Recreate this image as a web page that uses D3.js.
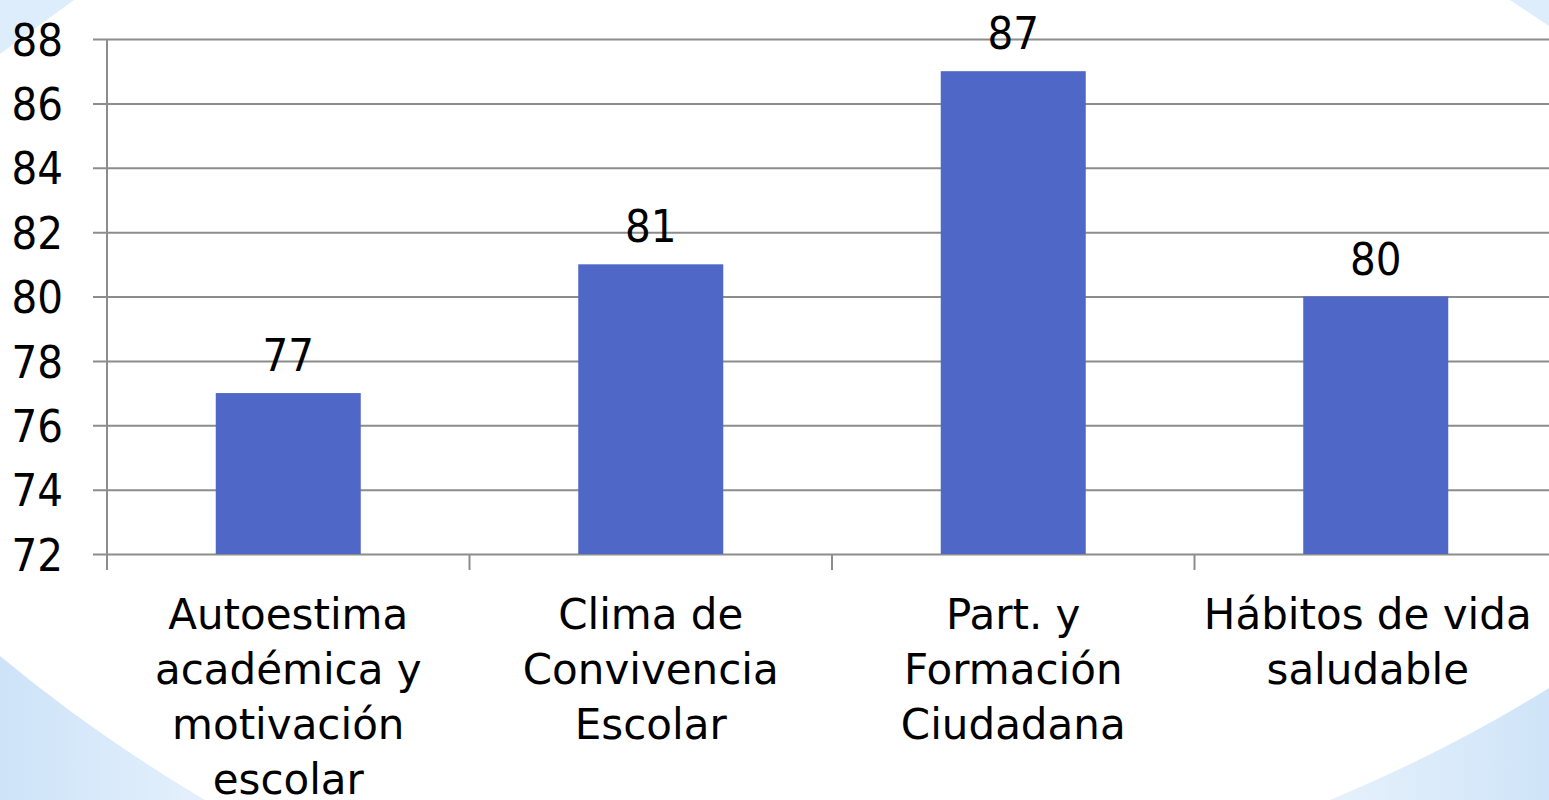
<!DOCTYPE html>
<html>
<head>
<meta charset="utf-8">
<script src="https://cdn.jsdelivr.net/npm/d3@7"></script>
<style>
  body { margin: 0; background: #fff; }
  svg { display: block; font-family: "DejaVu Sans", sans-serif; }
</style>
</head>
<body>
<svg width="1549" height="800"></svg>
<script>
const categories = [
    'Autoestima académica y motivación escolar',
    'Clima de Convivencia Escolar',
    'Part. y Formación Ciudadana',
    'Hábitos de vida saludable'
];
const values = [77, 81, 87, 80];
const yTicks = [72, 74, 76, 78, 80, 82, 84, 86, 88];

const svg = d3.select('svg');
const width = +svg.attr('width');
const height = +svg.attr('height');

// soft blue corner shapes of the slide background
const defs = svg.append('defs');
const grad = defs.append('linearGradient')
    .attr('id', 'bg-blue')
    .attr('x1', '0').attr('x2', '1').attr('y1', '0').attr('y2', '0');
grad.append('stop').attr('offset', '0%').attr('stop-color', '#cde3f8');
grad.append('stop').attr('offset', '100%').attr('stop-color', '#e4f0fc');
const gradR = defs.append('linearGradient')
    .attr('id', 'bg-blue-r')
    .attr('x1', '0').attr('x2', '1').attr('y1', '0').attr('y2', '0');
gradR.append('stop').attr('offset', '0%').attr('stop-color', '#e6f1fc');
gradR.append('stop').attr('offset', '100%').attr('stop-color', '#cfe4f8');

const bg = svg.append('g').attr('class', 'background');
bg.append('path').attr('d', 'M0,0 L74,0 L0,54 Z').attr('fill', '#ddedfb');
bg.append('path').attr('d', `M1510,0 L${width},0 L${width},26 Z`).attr('fill', '#ddedfb');
bg.append('path')
    .attr('d', `M0,656 Q95,735 205,${height} L0,${height} Z`)
    .attr('fill', 'url(#bg-blue)');
bg.append('path')
    .attr('d', `M1330,${height} Q1450,750 ${width},688 L${width},${height} Z`)
    .attr('fill', 'url(#bg-blue-r)');

const margin = { top: 39, right: -8, bottom: 246, left: 107 };
const innerWidth = width - margin.left - margin.right;
const innerHeight = height - margin.top - margin.bottom;

const g = svg.append('g')
    .attr('transform', `translate(${margin.left},${margin.top})`);

const xScale = d3.scaleBand()
    .domain(categories)
    .range([0, innerWidth])
    .paddingInner(0.6)
    .paddingOuter(0.3);

const yScale = d3.scaleLinear()
    .domain([72, 88])
    .range([innerHeight, 0]);

const numFont = '"DejaVu Sans Condensed", "DejaVu Sans", sans-serif';

// horizontal gridlines with y ticks
const yAxis = d3.axisLeft(yScale)
    .tickValues(yTicks)
    .tickSize(-(innerWidth + 14))
    .tickPadding(28);

const yG = g.append('g')
    .attr('class', 'y-axis')
    .call(yAxis);
yG.select('.domain').remove();
yG.selectAll('.tick line')
    .attr('x1', -14)
    .attr('x2', innerWidth)
    .attr('stroke', '#8c8c8c')
    .attr('stroke-width', 2);
yG.selectAll('.tick text')
    .attr('font-size', 45)
    .attr('fill', '#000')
    .attr('font-family', numFont)
    .attr('x', -44)
    .attr('text-anchor', 'end')
    .attr('dy', '0.36em');

// vertical axis line
g.append('line')
    .attr('x1', 0).attr('x2', 0)
    .attr('y1', 0).attr('y2', innerHeight + 16)
    .attr('stroke', '#8c8c8c')
    .attr('stroke-width', 2);

// category separator ticks
const step = xScale.step();
const sepX = d3.range(categories.length + 1).map(i => i * step);
g.selectAll('.sep')
    .data(sepX)
    .enter()
    .append('line')
    .attr('class', 'sep')
    .attr('x1', d => d).attr('x2', d => d)
    .attr('y1', innerHeight).attr('y2', innerHeight + 16)
    .attr('stroke', '#8c8c8c')
    .attr('stroke-width', 2);

// bars
const barData = categories.map((c, i) => ({ category: c, value: values[i] }));
const barW = step * 0.4;
const center = d => xScale(d.category) + xScale.bandwidth() / 2;

g.selectAll('.bar')
    .data(barData)
    .enter()
    .append('rect')
    .attr('class', 'bar')
    .attr('x', d => center(d) - barW / 2)
    .attr('y', d => yScale(d.value))
    .attr('width', barW)
    .attr('height', d => innerHeight - yScale(d.value))
    .attr('fill', '#4f67c7');

// value labels
g.selectAll('.value-label')
    .data(barData)
    .enter()
    .append('text')
    .attr('class', 'value-label')
    .attr('x', d => center(d))
    .attr('y', d => yScale(d.value) - 22)
    .attr('text-anchor', 'middle')
    .attr('font-size', 45)
    .attr('font-family', numFont)
    .attr('fill', '#000')
    .text(d => d.value);

// category labels, wrapped
const catLabels = g.selectAll('.cat-label')
    .data(barData)
    .enter()
    .append('text')
    .attr('class', 'cat-label')
    .attr('text-anchor', 'middle')
    .attr('font-size', 42)
    .attr('fill', '#000')
    .attr('x', d => center(d))
    .attr('y', innerHeight + 75);

catLabels.each(function (d, i) {
    const text = d3.select(this);
    const words = d.category.split(' ');
    // last label sits a bit left so it stays inside the slide
    const x = center(d) - (i === categories.length - 1 ? 8 : 0);
    let line = [];
    let tspan = text.append('tspan').attr('x', x).attr('dy', 0);
    words.forEach(w => {
        line.push(w);
        tspan.text(line.join(' '));
        if (tspan.node().getComputedTextLength() > step - 10 && line.length > 1) {
            line.pop();
            tspan.text(line.join(' '));
            line = [w];
            tspan = text.append('tspan').attr('x', x).attr('dy', 55).text(w);
        }
    });
});
</script>
</body>
</html>
